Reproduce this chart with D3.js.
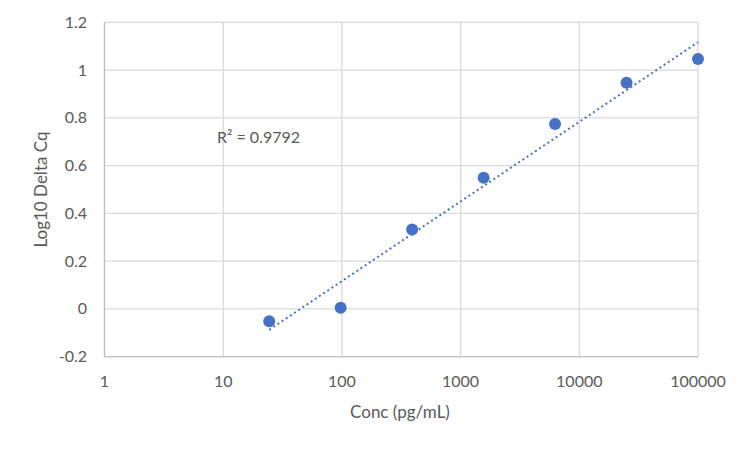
<!DOCTYPE html>
<html>
<head>
<meta charset="utf-8">
<script src="https://cdn.jsdelivr.net/npm/d3@7"></script>
<style>
  body { margin: 0; background: #fff; }
  text { font-family: Lato, "Open Sans", sans-serif; fill: #595959; }
</style>
</head>
<body>
<div id="chart"></div>
<script>
// 4-fold dilution series, conc in pg/mL
var concs = [24.4140625, 97.65625, 390.625, 1562.5, 6250, 25000, 100000];
var log10DeltaCq = [-0.052, 0.005, 0.333, 0.549, 0.774, 0.947, 1.046];
var xTicks = [1, 10, 100, 1000, 10000, 100000];
var yTicks = [-0.2, 0, 0.2, 0.4, 0.6, 0.8, 1, 1.2];
var r2Label = "R² = 0.9792";

var w = 750;
var h = 449;
var margin = {left: 104.5, right: 52, top: 22.3, bottom: 92.3};

var svg = d3.select("#chart")
  .append("svg")
  .attr("width", w)
  .attr("height", h);

var xScale = d3.scaleLog()
  .domain([1, 100000])
  .range([margin.left, w - margin.right]);

var yScale = d3.scaleLinear()
  .domain([-0.2, 1.2])
  .range([h - margin.bottom, margin.top]);

// gridlines
svg.selectAll("line.vgrid")
  .data(xTicks)
  .enter()
  .append("line")
  .attr("class", "vgrid")
  .attr("x1", function(d) { return xScale(d); })
  .attr("x2", function(d) { return xScale(d); })
  .attr("y1", yScale(-0.2))
  .attr("y2", yScale(1.2))
  .attr("stroke", "#d9d9d9")
  .attr("stroke-width", 1.3);

svg.selectAll("line.hgrid")
  .data(yTicks)
  .enter()
  .append("line")
  .attr("class", "hgrid")
  .attr("x1", xScale(1))
  .attr("x2", xScale(100000))
  .attr("y1", function(d) { return yScale(d); })
  .attr("y2", function(d) { return yScale(d); })
  .attr("stroke", "#d9d9d9")
  .attr("stroke-width", 1.3);

// axis lines
svg.append("line")
  .attr("x1", xScale(1)).attr("x2", xScale(1))
  .attr("y1", yScale(-0.2)).attr("y2", yScale(1.2))
  .attr("stroke", "#bfbfbf")
  .attr("stroke-width", 1.3);

svg.append("line")
  .attr("x1", xScale(1)).attr("x2", xScale(100000))
  .attr("y1", yScale(-0.2)).attr("y2", yScale(-0.2))
  .attr("stroke", "#bfbfbf")
  .attr("stroke-width", 1.3);

// tick labels
svg.selectAll("text.ylab")
  .data(yTicks)
  .enter()
  .append("text")
  .attr("class", "ylab")
  .attr("x", 87)
  .attr("y", function(d) { return yScale(d) + 5.5; })
  .attr("text-anchor", "end")
  .style("font-size", "16px")
  .text(function(d) { return d; });

svg.selectAll("text.xlab")
  .data(xTicks)
  .enter()
  .append("text")
  .attr("class", "xlab")
  .attr("x", function(d) { return xScale(d); })
  .attr("y", 387)
  .attr("text-anchor", "middle")
  .style("font-size", "16px")
  .text(function(d) { return d; });

// axis titles
svg.append("text")
  .attr("x", 400)
  .attr("y", 418)
  .attr("text-anchor", "middle")
  .style("font-size", "17px")
  .text("Conc (pg/mL)");

svg.append("text")
  .attr("transform", "translate(47," + yScale(0.5) + ") rotate(-90)")
  .attr("text-anchor", "middle")
  .style("font-size", "17px")
  .text("Log10 Delta Cq");

// linear fit of y against log10(x)
var lx = concs.map(function(d) { return Math.log10(d); });
var mx = d3.mean(lx);
var my = d3.mean(log10DeltaCq);
var sxy = d3.sum(lx, function(d, i) { return (d - mx) * (log10DeltaCq[i] - my); });
var sxx = d3.sum(lx, function(d) { return (d - mx) * (d - mx); });
var slope = sxy / sxx;
var icept = my - slope * mx;
var ends = [concs[0], concs[concs.length - 1]];

svg.append("line")
  .attr("x1", xScale(ends[0]))
  .attr("y1", yScale(icept + slope * Math.log10(ends[0])))
  .attr("x2", xScale(ends[1]))
  .attr("y2", yScale(icept + slope * Math.log10(ends[1])))
  .attr("stroke", "#4472c4")
  .attr("stroke-width", 2)
  .attr("stroke-dasharray", "2,3");

// points
svg.selectAll("circle.pt")
  .data(concs)
  .enter()
  .append("circle")
  .attr("class", "pt")
  .attr("cx", function(d) { return xScale(d); })
  .attr("cy", function(d, i) { return yScale(log10DeltaCq[i]); })
  .attr("r", 6)
  .attr("fill", "#4472c4");

svg.append("text")
  .attr("x", 217)
  .attr("y", 143)
  .style("font-size", "16px")
  .text(r2Label);
</script>
</body>
</html>
